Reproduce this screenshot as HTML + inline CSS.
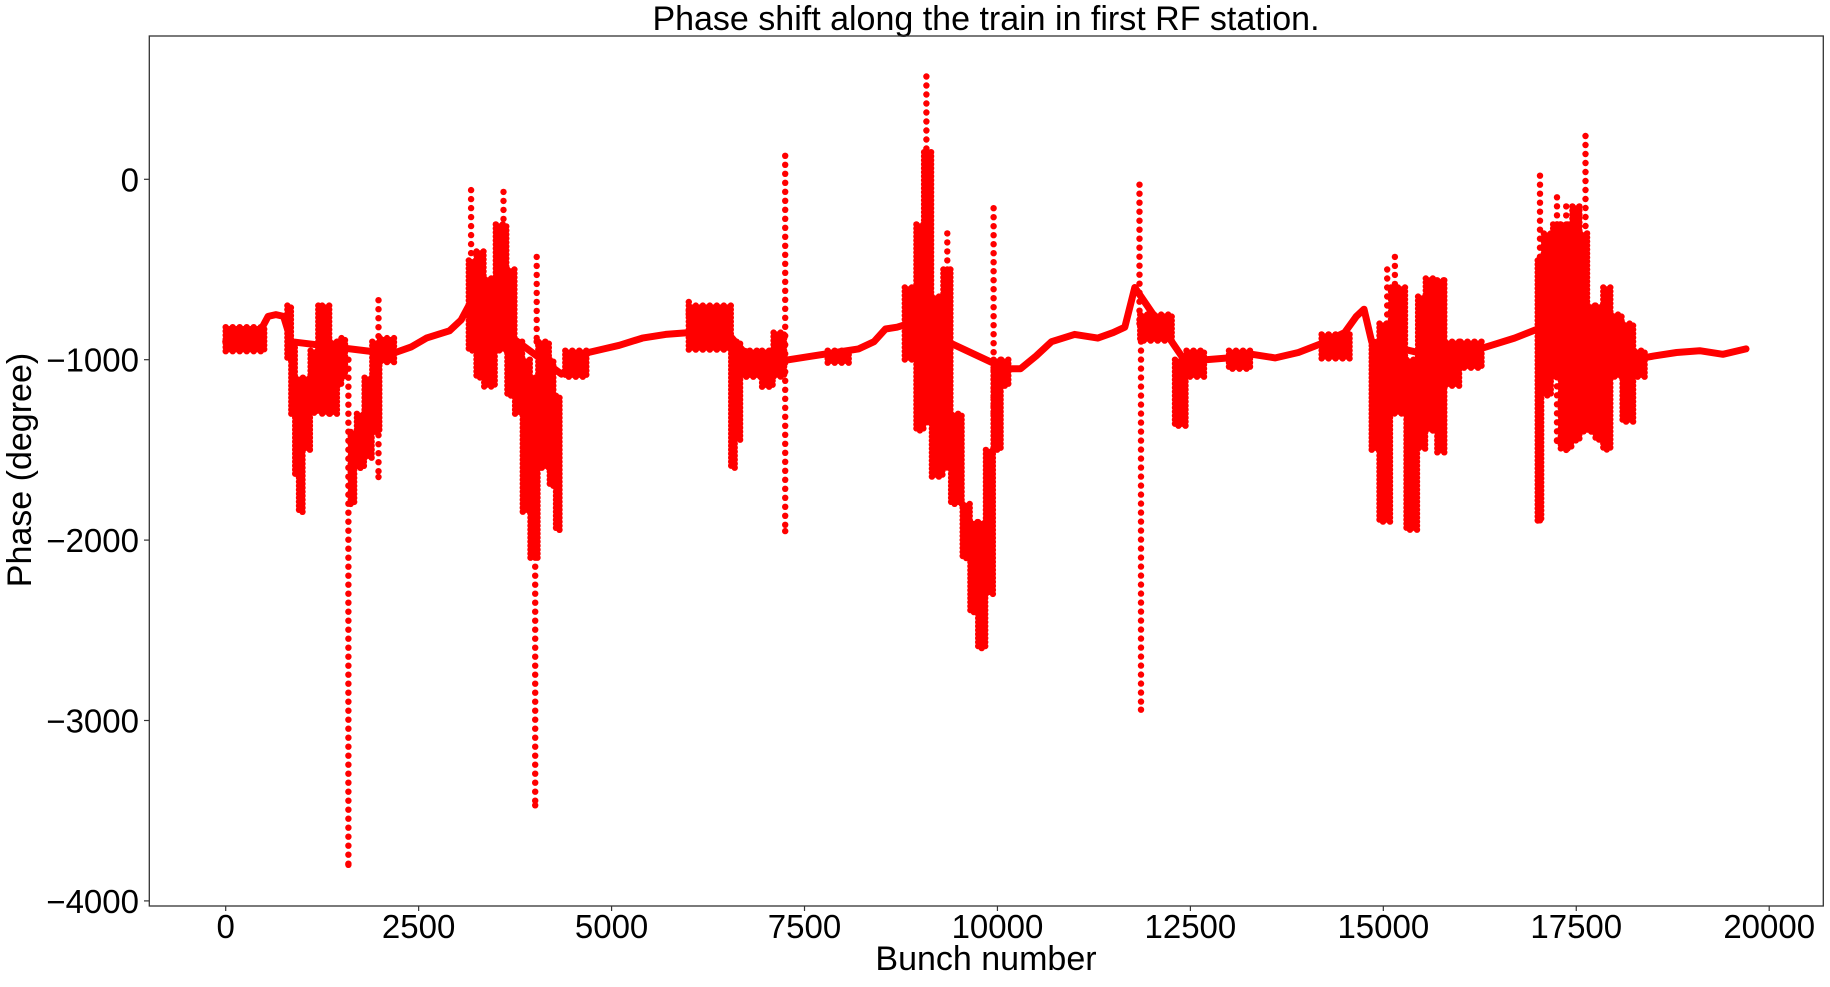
<!DOCTYPE html>
<html><head><meta charset="utf-8"><style>
html,body{margin:0;padding:0;background:#fff;}
svg text{font-family:"Liberation Sans","DejaVu Sans",sans-serif;fill:#000;}
</style></head><body>
<svg id="chart" width="1830" height="982" viewBox="0 0 1830 982" xmlns="http://www.w3.org/2000/svg">
<rect x="0" y="0" width="1830" height="982" fill="#fff"/>
<text x="986" y="30" font-size="34" text-anchor="middle">Phase shift along the train in first RF station.</text>
<g id="marks"></g>
<rect x="149.3" y="36" width="1674" height="870" fill="none" stroke="#333" stroke-width="1.3"/>
<g id="xticks"></g>
<g id="yticks"></g>
<text x="986" y="970" font-size="34" text-anchor="middle">Bunch number</text>
<text x="0" y="0" font-size="34" text-anchor="middle" transform="translate(31,470) rotate(-90)">Phase (degree)</text>
</svg>
<script>
const xTicks = [0, 2500, 5000, 7500, 10000, 12500, 15000, 17500, 20000];
const yTicks = [0, -1000, -2000, -3000, -4000];
// smooth trend [bunch, phase]
const baseBunch = [0,150,300,450,550,650,750,850,2000,2200,2400,2600,2750,2900,3050,3150,4350,4500,4700,4900,5100,5400,5700,6000,6500,6700,7100,7300,7600,7900,8200,8400,8550,8700,8850,10100,10300,10500,10700,11000,11300,11500,11650,11780,12450,12700,13000,13300,13600,13900,14200,14500,14650,14750,14850,15850,16100,16400,16700,17000,18250,18500,18800,19100,19400,19700];
const basePhase = [-900,-890,-870,-840,-760,-750,-760,-900,-960,-960,-930,-880,-860,-840,-780,-700,-1080,-1030,-960,-940,-920,-880,-860,-850,-850,-950,-1000,-1000,-980,-960,-940,-900,-830,-820,-800,-1050,-1050,-980,-900,-860,-880,-850,-820,-600,-1020,-1000,-990,-970,-990,-960,-910,-850,-760,-720,-900,-1000,-960,-920,-880,-830,-1000,-980,-960,-950,-970,-940];
// dense noisy bands
const bandStart = [0,800,850,900,950,1000,1100,1200,1250,1350,1450,1500,1620,1700,1800,1900,2000,3150,3250,3350,3500,3650,3750,3850,3950,4050,4200,4280,4400,6000,6550,6620,6700,6950,7100,7800,8800,8950,9050,9150,9300,9400,9550,9650,9750,9850,9950,10050,11850,12300,12450,13000,14200,14850,14950,15100,15300,15450,15550,15700,15800,16000,17000,17080,17200,17300,17450,17550,17650,17750,17850,17950,18100,18250];
const bandEnd   = [500,850,900,950,1000,1100,1200,1250,1350,1450,1500,1550,1700,1800,1900,2000,2200,3250,3350,3500,3650,3750,3850,3950,4050,4200,4280,4350,4700,6550,6620,6700,6950,7100,7250,8100,8950,9050,9150,9300,9400,9550,9650,9750,9850,9950,10050,10150,12300,12450,12700,13300,14600,14950,15100,15300,15450,15550,15700,15800,16000,16300,17080,17200,17300,17450,17550,17650,17750,17850,17950,18100,18250,18400];
const bandLow   = [-960,-1000,-1300,-1650,-1850,-1500,-1300,-1250,-1300,-1300,-1150,-1100,-1800,-1600,-1550,-1400,-1020,-950,-1100,-1150,-950,-1200,-1300,-1850,-2100,-1600,-1700,-1950,-1100,-950,-1600,-1450,-1100,-1150,-1100,-1020,-1000,-1400,-1350,-1650,-1600,-1800,-2100,-2400,-2600,-2300,-1500,-1150,-900,-1370,-1100,-1050,-1000,-1500,-1900,-1300,-1950,-1500,-1400,-1520,-1150,-1050,-1900,-1200,-1100,-1500,-1450,-1400,-1400,-1450,-1500,-1100,-1350,-1100];
const bandHigh  = [-820,-700,-900,-1100,-1300,-1100,-950,-700,-700,-900,-900,-880,-1400,-1300,-1100,-900,-880,-450,-400,-550,-250,-500,-900,-1000,-1100,-900,-1000,-1200,-950,-700,-900,-900,-950,-950,-850,-950,-600,-250,150,-650,-500,-1300,-1800,-1900,-1900,-1500,-1000,-1000,-750,-1000,-950,-950,-860,-900,-800,-600,-1000,-650,-550,-560,-900,-900,-450,-300,-250,-250,-150,-300,-700,-700,-600,-750,-800,-950];
// sparse spikes
const spikeBunch = [1590,1980,3180,3600,4010,4030,6000,7250,9080,9350,9950,11840,11860,15050,15150,15780,17030,17620,17250,17370];
const spikeLow   = [-3800,-1650,-700,-500,-3470,-900,-750,-1950,-300,-700,-1300,-800,-2940,-900,-900,-1100,-1890,-500,-1450,-1500];
const spikeHigh  = [-1000,-670,-60,-70,-1100,-430,-680,130,570,-300,-160,-30,-800,-500,-430,-560,20,240,-100,-150];

const NS = 'http://www.w3.org/2000/svg';
const X0 = 225.7, XS = 0.077175, Y0 = 179.3, YS = 0.1804;
function xs(b){ return X0 + b * XS; }
function ys(v){ return Y0 - v * YS; }
const marks = document.getElementById('marks');
function dot(cx, cy, r){
  const c = document.createElementNS(NS, 'circle');
  c.setAttribute('cx', cx.toFixed(1)); c.setAttribute('cy', cy.toFixed(1));
  c.setAttribute('r', r); c.setAttribute('fill', '#ff0000');
  
  
  marks.appendChild(c);
}
let d = '';
for (let i = 0; i < baseBunch.length; i++) d += (i ? 'L' : 'M') + xs(baseBunch[i]).toFixed(1) + ' ' + ys(basePhase[i]).toFixed(1);
const p = document.createElementNS(NS, 'path');
p.setAttribute('d', d); p.setAttribute('fill', 'none'); p.setAttribute('stroke', '#ff0000');
p.setAttribute('stroke-width', '7'); p.setAttribute('stroke-linejoin', 'round'); p.setAttribute('stroke-linecap', 'round');


marks.appendChild(p);
for (let i = 0; i < bandStart.length; i++) {
  const x1 = xs(bandStart[i]), x2 = xs(bandEnd[i]);
  const y1 = ys(bandHigh[i]), y2 = ys(bandLow[i]);
  let k = 0;
  for (let x = x1; x <= x2 + 0.1; x += 3.5, k++) {
    for (let y = y1 + (k % 2) * 2; y <= y2 + 0.1; y += 4) dot(x, y, 3.2);
  }
}
for (let i = 0; i < spikeBunch.length; i++) {
  const x = xs(spikeBunch[i]);
  const y1 = ys(spikeHigh[i]), y2 = ys(spikeLow[i]);
  for (let y = y1; y <= y2 + 0.1; y += 9) dot(x, y, 3.2);
  dot(x, y2, 3.2);
}
const xg = document.getElementById('xticks');
xTicks.forEach(t => {
  const x = xs(t);
  const l = document.createElementNS(NS, 'line');
  l.setAttribute('x1', x); l.setAttribute('x2', x); l.setAttribute('y1', 906); l.setAttribute('y2', 911);
  l.setAttribute('stroke', '#333'); l.setAttribute('stroke-width', '1.2');
  
  
  xg.appendChild(l);
  const tx = document.createElementNS(NS, 'text');
  tx.setAttribute('x', x); tx.setAttribute('y', 938); tx.setAttribute('font-size', '33'); tx.setAttribute('text-anchor', 'middle');
  tx.textContent = String(t);
  
  
  xg.appendChild(tx);
});
const yg = document.getElementById('yticks');
yTicks.forEach(t => {
  const y = ys(t);
  const l = document.createElementNS(NS, 'line');
  l.setAttribute('x1', 144); l.setAttribute('x2', 149.3); l.setAttribute('y1', y); l.setAttribute('y2', y);
  l.setAttribute('stroke', '#333'); l.setAttribute('stroke-width', '1.2');
  
  
  yg.appendChild(l);
  const tx = document.createElementNS(NS, 'text');
  tx.setAttribute('x', 139); tx.setAttribute('y', y + 12); tx.setAttribute('font-size', '33'); tx.setAttribute('text-anchor', 'end');
  tx.textContent = t < 0 ? '\u2212' + Math.abs(t) : String(t);
  
  
  yg.appendChild(tx);
});
</script>
</body></html>
